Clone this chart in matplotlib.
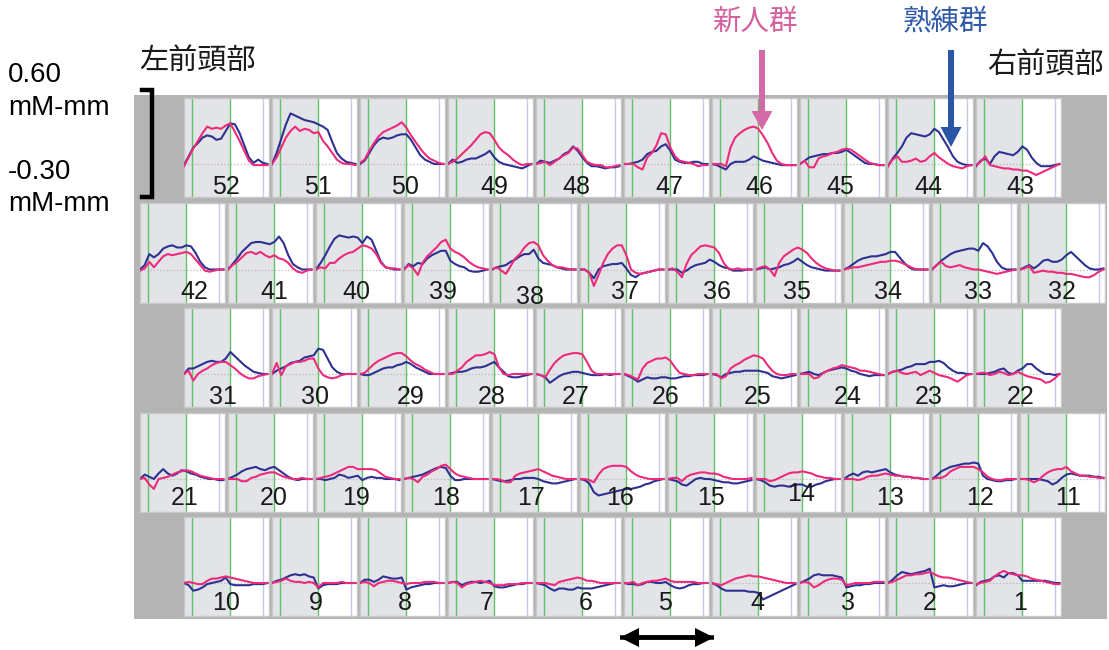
import matplotlib.pyplot as plt
from matplotlib.patches import FancyArrow
import numpy as np

plt.rcParams['font.family'] = ['Liberation Sans', 'Noto Sans CJK JP', 'DejaVu Sans']

# --- データ ---
# 時間軸 [s]：安静 5 s → 課題 25 s → 安静
time_s = [0, 3, 6, 9, 12, 15, 18, 21, 24, 27, 30, 33, 36, 39, 42, 45, 48, 51, 54]
task_on, task_off, rest_end = 5, 30, 51

# チャンネル配置（上段から、左→右）
ch_rows = [
    [52, 51, 50, 49, 48, 47, 46, 45, 44, 43],
    [42, 41, 40, 39, 38, 37, 36, 35, 34, 33, 32],
    [31, 30, 29, 28, 27, 26, 25, 24, 23, 22],
    [21, 20, 19, 18, 17, 16, 15, 14, 13, 12, 11],
    [10, 9, 8, 7, 6, 5, 4, 3, 2, 1],
]

# 新人群 (oxy-Hb, mM-mm)
novice = {
    52: [-0.02, 0.06, 0.14, 0.21, 0.28, 0.34, 0.32, 0.33, 0.32, 0.35, 0.37, 0.29, 0.21, 0.12, 0.03, -0.01, -0.01, -0.01, -0.01],
    51: [0.0, 0.06, 0.15, 0.24, 0.30, 0.34, 0.30, 0.32, 0.31, 0.28, 0.29, 0.21, 0.16, 0.10, 0.04, 0.01, 0.0, 0.0, -0.01],
    50: [0.01, 0.04, 0.12, 0.19, 0.25, 0.29, 0.31, 0.33, 0.35, 0.38, 0.33, 0.26, 0.20, 0.14, 0.09, 0.05, 0.03, 0.01, 0.0],
    49: [0.0, 0.02, 0.05, 0.09, 0.13, 0.17, 0.22, 0.27, 0.29, 0.28, 0.22, 0.15, 0.11, 0.08, 0.04, 0.01, -0.01, 0.0, 0.0],
    48: [0.0, 0.01, 0.02, -0.01, 0.02, 0.05, 0.08, 0.10, 0.15, 0.14, 0.08, 0.02, 0.0, -0.01, -0.01, -0.03, -0.03, -0.02, -0.01],
    47: [0.0, 0.0, 0.0, -0.03, -0.05, 0.06, 0.10, 0.17, 0.28, 0.27, 0.15, 0.07, 0.03, 0.02, 0.01, 0.0, -0.02, -0.01, -0.01],
    46: [0.0, 0.0, 0.0, -0.02, 0.15, 0.24, 0.28, 0.31, 0.33, 0.34, 0.32, 0.26, 0.19, 0.10, 0.03, 0.0, -0.01, -0.01, -0.01],
    45: [0.0, 0.03, -0.03, -0.03, 0.05, 0.07, 0.08, 0.10, 0.11, 0.13, 0.14, 0.13, 0.10, 0.07, 0.04, 0.01, 0.0, -0.01, -0.01],
    44: [-0.02, 0.04, 0.07, 0.02, 0.02, 0.03, 0.05, 0.02, 0.03, 0.07, 0.10, 0.06, 0.03, 0.0, -0.02, -0.03, -0.04, -0.02, -0.01],
    43: [-0.01, 0.02, 0.07, -0.01, -0.02, -0.03, -0.04, -0.04, -0.05, -0.05, -0.06, -0.06, -0.08, -0.10, -0.08, -0.06, -0.04, -0.02, 0.0],
    42: [-0.01, 0.01, 0.07, 0.02, 0.07, 0.12, 0.14, 0.13, 0.14, 0.15, 0.16, 0.14, 0.09, 0.04, -0.01, -0.02, -0.01, 0.0, 0.0],
    41: [0.0, 0.04, 0.07, 0.11, 0.15, 0.16, 0.14, 0.16, 0.13, 0.11, 0.13, 0.10, 0.09, 0.06, 0.01, -0.02, -0.03, -0.01, 0.0],
    40: [0.0, 0.02, 0.01, 0.06, 0.06, 0.10, 0.13, 0.15, 0.16, 0.19, 0.22, 0.21, 0.19, 0.14, 0.06, 0.02, 0.01, 0.01, 0.0],
    39: [0.0, 0.04, 0.01, -0.05, 0.06, 0.12, 0.16, 0.20, 0.25, 0.27, 0.19, 0.16, 0.14, 0.11, 0.07, 0.04, 0.02, 0.01, 0.0],
    38: [0.0, 0.02, -0.01, -0.04, 0.03, 0.10, 0.14, 0.20, 0.24, 0.25, 0.22, 0.13, 0.08, 0.04, 0.02, 0.02, 0.01, 0.0, 0.0],
    37: [0.0, 0.0, -0.03, -0.15, -0.05, 0.06, 0.14, 0.19, 0.22, 0.22, 0.13, 0.0, -0.03, -0.04, -0.03, -0.02, -0.01, 0.0, 0.0],
    36: [0.0, 0.01, -0.02, -0.07, 0.05, 0.13, 0.17, 0.21, 0.22, 0.21, 0.20, 0.15, 0.06, 0.01, 0.0, 0.01, 0.0, 0.0, 0.0],
    35: [0.0, 0.02, 0.03, 0.0, -0.06, 0.06, 0.12, 0.15, 0.18, 0.20, 0.18, 0.15, 0.10, 0.06, 0.03, 0.01, 0.0, -0.01, -0.01],
    34: [0.0, 0.01, 0.02, 0.02, 0.03, 0.04, 0.05, 0.06, 0.07, 0.07, 0.08, 0.08, 0.07, 0.05, 0.03, 0.01, 0.0, 0.0, 0.0],
    33: [0.0, 0.04, 0.07, 0.03, 0.02, 0.03, 0.04, 0.02, 0.01, 0.0, 0.0, -0.01, -0.02, -0.03, -0.04, -0.03, -0.02, -0.01, 0.0],
    32: [0.0, 0.01, 0.03, -0.03, -0.02, -0.01, -0.02, -0.02, -0.03, -0.03, -0.04, -0.04, -0.05, -0.06, -0.07, -0.07, -0.05, -0.02, 0.0],
    31: [0.0, 0.03, -0.06, 0.0, 0.03, 0.05, 0.08, 0.10, 0.11, 0.11, 0.08, 0.05, 0.01, -0.02, -0.04, -0.04, -0.02, -0.01, 0.0],
    30: [0.0, 0.10, -0.01, 0.07, 0.09, 0.11, 0.11, 0.12, 0.14, 0.14, 0.05, -0.01, -0.03, -0.04, -0.03, -0.01, 0.0, 0.0, 0.0],
    29: [0.0, 0.01, 0.05, 0.09, 0.12, 0.14, 0.16, 0.18, 0.19, 0.19, 0.16, 0.12, 0.09, 0.07, 0.04, 0.02, 0.0, 0.0, 0.0],
    28: [0.0, 0.0, 0.03, 0.06, 0.11, 0.14, 0.17, 0.17, 0.18, 0.20, 0.18, 0.06, 0.0, -0.01, 0.0, 0.0, 0.0, 0.0, 0.0],
    27: [0.0, -0.01, -0.03, 0.04, 0.10, 0.14, 0.17, 0.18, 0.19, 0.19, 0.18, 0.11, 0.03, 0.0, 0.0, 0.0, 0.0, 0.0, 0.0],
    26: [0.0, -0.01, -0.03, -0.05, 0.05, 0.10, 0.12, 0.14, 0.14, 0.15, 0.12, 0.06, 0.01, 0.0, -0.01, -0.01, 0.0, 0.0, 0.0],
    25: [0.0, 0.0, -0.04, -0.02, 0.05, 0.08, 0.10, 0.13, 0.15, 0.17, 0.16, 0.14, 0.08, 0.03, 0.0, -0.01, -0.01, 0.0, 0.0],
    24: [0.0, 0.0, 0.0, -0.04, -0.03, 0.01, 0.03, 0.05, 0.06, 0.08, 0.07, 0.06, 0.05, 0.03, 0.03, 0.02, 0.01, 0.0, -0.01],
    23: [0.0, 0.02, 0.03, 0.01, 0.0, 0.01, 0.02, -0.01, 0.01, 0.03, 0.01, -0.01, -0.02, -0.03, -0.05, -0.07, -0.04, -0.01, 0.0],
    22: [0.0, 0.01, 0.01, -0.01, 0.0, 0.02, 0.01, -0.01, 0.0, 0.02, 0.0, -0.02, -0.03, -0.04, -0.05, -0.08, -0.07, -0.04, 0.0],
    21: [0.0, 0.01, -0.05, -0.09, 0.0, 0.01, 0.02, 0.04, 0.06, 0.07, 0.08, 0.07, 0.05, 0.03, 0.02, 0.01, 0.0, 0.0, 0.0],
    20: [0.0, 0.0, 0.0, -0.02, -0.02, 0.01, 0.02, 0.04, 0.05, 0.06, 0.06, 0.04, 0.02, 0.01, 0.0, 0.0, 0.01, 0.0, 0.0],
    19: [0.0, 0.01, 0.02, 0.03, 0.05, 0.07, 0.09, 0.11, 0.11, 0.09, 0.09, 0.09, 0.09, 0.08, 0.05, 0.02, 0.01, 0.0, 0.0],
    18: [0.0, 0.01, 0.0, -0.03, 0.02, 0.04, 0.07, 0.09, 0.12, 0.13, 0.09, 0.05, 0.03, 0.02, 0.01, 0.0, 0.0, 0.0, 0.0],
    17: [0.0, 0.0, -0.01, -0.03, -0.03, 0.03, 0.05, 0.06, 0.07, 0.08, 0.09, 0.07, 0.05, 0.03, 0.02, 0.01, 0.0, 0.0, 0.0],
    16: [0.0, 0.0, -0.01, -0.03, 0.04, 0.09, 0.11, 0.12, 0.12, 0.12, 0.11, 0.07, 0.04, 0.02, 0.01, 0.0, 0.0, 0.0, 0.0],
    15: [0.0, 0.01, 0.01, -0.02, 0.02, 0.04, 0.05, 0.06, 0.06, 0.05, 0.05, 0.04, 0.02, 0.01, 0.0, 0.0, 0.0, 0.0, 0.01],
    14: [0.0, 0.0, 0.0, -0.02, -0.01, 0.01, 0.03, 0.05, 0.06, 0.06, 0.07, 0.06, 0.05, 0.03, 0.02, 0.01, 0.01, 0.0, 0.0],
    13: [0.0, 0.0, 0.0, -0.01, 0.0, 0.02, 0.03, 0.03, 0.04, 0.05, 0.04, 0.03, 0.03, 0.02, 0.02, 0.01, 0.01, 0.0, 0.0],
    12: [0.0, 0.01, 0.01, 0.03, 0.07, 0.09, 0.11, 0.11, 0.11, 0.11, 0.09, 0.06, 0.02, 0.0, -0.01, -0.01, 0.0, 0.0, 0.0],
    11: [0.0, 0.0, -0.01, -0.03, -0.01, 0.03, 0.06, 0.08, 0.09, 0.09, 0.11, 0.07, 0.05, 0.03, 0.03, 0.02, 0.02, 0.01, 0.01],
    10: [0.0, 0.01, 0.0, -0.01, -0.01, 0.02, 0.04, 0.04, 0.05, 0.06, 0.05, 0.04, 0.03, 0.02, 0.01, 0.0, 0.0, 0.0, 0.0],
    9: [0.0, 0.01, 0.02, 0.04, 0.02, 0.01, 0.01, 0.0, 0.01, 0.0, -0.04, 0.0, 0.0, 0.0, 0.0, 0.01, 0.0, 0.0, 0.0],
    8: [0.0, 0.01, 0.0, -0.03, 0.0, 0.01, 0.02, 0.02, 0.01, 0.0, -0.01, 0.0, 0.0, 0.0, 0.01, 0.01, 0.01, 0.0, 0.0],
    7: [0.0, 0.01, 0.0, -0.04, -0.01, 0.0, 0.01, 0.02, 0.01, 0.0, -0.02, -0.02, -0.02, -0.01, -0.01, -0.01, 0.0, 0.0, 0.0],
    6: [0.0, 0.0, 0.0, -0.01, -0.02, 0.01, 0.02, 0.03, 0.04, 0.05, 0.04, 0.02, 0.02, 0.01, 0.0, 0.0, 0.0, 0.0, 0.0],
    5: [0.0, 0.0, 0.01, -0.02, 0.0, 0.01, 0.02, 0.02, 0.03, 0.04, 0.02, 0.01, 0.01, 0.01, 0.01, 0.01, 0.0, 0.0, 0.0],
    4: [0.0, -0.01, -0.02, 0.0, 0.02, 0.04, 0.05, 0.06, 0.07, 0.06, 0.06, 0.05, 0.04, 0.03, 0.02, 0.01, 0.0, 0.0, 0.0],
    3: [0.0, 0.01, 0.0, -0.04, -0.02, 0.01, 0.03, 0.04, 0.04, 0.03, -0.02, -0.01, 0.0, 0.0, 0.0, 0.0, 0.01, 0.01, 0.01],
    2: [0.0, 0.01, 0.03, 0.05, 0.07, 0.07, 0.08, 0.08, 0.09, 0.10, 0.08, 0.06, 0.05, 0.05, 0.04, 0.03, 0.02, 0.01, 0.0],
    1: [-0.01, 0.0, 0.01, 0.02, 0.06, 0.09, 0.11, 0.09, 0.08, 0.07, 0.07, 0.06, 0.04, 0.03, 0.02, 0.01, 0.0, -0.01, -0.01],
}

# 熟練群 (oxy-Hb, mM-mm)
expert = {
    52: [-0.01, 0.07, 0.15, 0.19, 0.24, 0.26, 0.25, 0.22, 0.23, 0.30, 0.37, 0.36, 0.28, 0.17, 0.06, 0.01, 0.04, 0.01, 0.0],
    51: [0.0, 0.10, 0.23, 0.36, 0.46, 0.44, 0.42, 0.40, 0.39, 0.38, 0.36, 0.34, 0.31, 0.20, 0.10, 0.05, 0.02, 0.01, 0.0],
    50: [0.0, 0.03, 0.10, 0.17, 0.22, 0.24, 0.23, 0.24, 0.26, 0.27, 0.27, 0.22, 0.15, 0.08, 0.04, 0.02, 0.0, 0.0, 0.0],
    49: [0.0, 0.04, 0.01, 0.02, 0.04, 0.05, 0.05, 0.07, 0.09, 0.12, 0.06, 0.02, 0.0, -0.01, -0.02, -0.03, -0.04, -0.02, 0.0],
    48: [0.0, 0.03, 0.02, 0.01, 0.03, 0.05, 0.09, 0.11, 0.16, 0.12, 0.06, 0.01, -0.02, -0.02, -0.03, -0.04, -0.03, -0.03, -0.02],
    47: [0.0, 0.0, 0.01, 0.02, 0.04, 0.09, 0.11, 0.12, 0.16, 0.18, 0.12, 0.04, 0.02, 0.01, 0.01, 0.02, 0.02, 0.0, 0.0],
    46: [0.0, -0.01, -0.03, -0.05, 0.0, 0.02, 0.02, 0.02, 0.04, 0.07, 0.05, 0.03, 0.02, 0.01, 0.0, -0.01, -0.01, -0.01, -0.01],
    45: [0.0, 0.03, 0.06, 0.07, 0.08, 0.09, 0.09, 0.10, 0.10, 0.11, 0.13, 0.10, 0.07, 0.04, 0.01, 0.0, 0.0, -0.01, -0.01],
    44: [-0.02, 0.05, 0.10, 0.16, 0.24, 0.28, 0.27, 0.26, 0.25, 0.27, 0.32, 0.29, 0.22, 0.15, 0.07, 0.02, 0.0, -0.01, -0.01],
    43: [-0.02, 0.03, 0.05, 0.0, 0.07, 0.11, 0.10, 0.09, 0.08, 0.11, 0.16, 0.13, 0.06, 0.01, -0.02, -0.02, -0.02, -0.01, 0.0],
    42: [0.0, 0.04, 0.14, 0.11, 0.14, 0.19, 0.21, 0.22, 0.20, 0.20, 0.22, 0.21, 0.15, 0.07, 0.02, 0.0, 0.0, 0.0, 0.0],
    41: [0.0, 0.05, 0.10, 0.16, 0.20, 0.24, 0.25, 0.25, 0.24, 0.23, 0.25, 0.30, 0.24, 0.13, 0.05, 0.02, 0.0, 0.0, 0.0],
    40: [0.0, 0.06, 0.13, 0.21, 0.28, 0.31, 0.30, 0.29, 0.30, 0.29, 0.24, 0.30, 0.27, 0.17, 0.07, 0.02, 0.01, 0.0, 0.0],
    39: [0.0, 0.05, 0.03, 0.06, 0.05, 0.10, 0.13, 0.15, 0.17, 0.17, 0.08, 0.05, 0.03, 0.02, -0.01, -0.02, -0.02, -0.01, 0.0],
    38: [0.0, 0.02, 0.03, 0.04, 0.07, 0.09, 0.12, 0.14, 0.14, 0.18, 0.10, 0.06, 0.05, 0.04, 0.02, 0.01, 0.0, 0.0, 0.0],
    37: [0.0, 0.0, -0.03, -0.08, 0.0, 0.03, 0.04, 0.05, 0.05, 0.06, 0.01, -0.05, -0.07, -0.04, -0.03, -0.02, -0.01, 0.0, 0.0],
    36: [0.0, 0.0, 0.0, -0.03, -0.01, 0.02, 0.04, 0.05, 0.06, 0.09, 0.07, 0.04, 0.02, 0.01, -0.01, -0.01, -0.01, 0.0, 0.0],
    35: [0.0, 0.01, 0.02, 0.0, 0.01, 0.02, 0.04, 0.05, 0.07, 0.10, 0.07, 0.04, 0.02, 0.01, 0.0, -0.01, -0.01, -0.01, -0.01],
    34: [0.0, 0.02, 0.05, 0.08, 0.10, 0.11, 0.12, 0.12, 0.13, 0.14, 0.16, 0.16, 0.11, 0.06, 0.02, 0.0, 0.0, 0.0, 0.0],
    33: [0.0, 0.04, 0.08, 0.11, 0.14, 0.16, 0.17, 0.18, 0.19, 0.19, 0.17, 0.24, 0.21, 0.15, 0.07, 0.02, 0.0, 0.0, 0.0],
    32: [0.0, 0.02, 0.04, 0.01, 0.04, 0.08, 0.09, 0.07, 0.07, 0.09, 0.13, 0.16, 0.12, 0.08, 0.04, 0.01, 0.0, 0.0, 0.01],
    31: [0.0, 0.05, 0.05, 0.07, 0.09, 0.11, 0.12, 0.11, 0.11, 0.14, 0.20, 0.16, 0.12, 0.08, 0.05, 0.02, 0.01, 0.0, 0.0],
    30: [0.0, 0.03, 0.05, 0.07, 0.10, 0.11, 0.12, 0.15, 0.16, 0.17, 0.23, 0.22, 0.14, 0.06, 0.02, 0.0, 0.0, 0.0, 0.0],
    29: [0.0, -0.01, -0.01, 0.01, 0.03, 0.05, 0.06, 0.06, 0.08, 0.09, 0.11, 0.09, 0.06, 0.04, 0.02, 0.0, 0.0, 0.0, 0.0],
    28: [0.0, 0.01, 0.02, 0.02, 0.03, 0.05, 0.06, 0.06, 0.07, 0.09, 0.11, 0.06, 0.02, -0.02, -0.03, -0.03, -0.02, -0.01, 0.0],
    27: [0.0, -0.01, -0.03, -0.08, -0.05, -0.02, 0.0, 0.01, 0.02, 0.02, 0.01, 0.0, -0.01, -0.01, -0.01, 0.0, -0.01, 0.0, 0.0],
    26: [0.0, -0.02, -0.04, -0.07, -0.05, -0.03, -0.04, -0.04, -0.03, -0.03, -0.04, -0.04, -0.03, -0.02, -0.02, -0.01, -0.01, -0.01, 0.0],
    25: [0.0, -0.01, -0.03, 0.0, 0.01, 0.02, 0.02, 0.03, 0.03, 0.03, 0.03, 0.02, 0.01, -0.02, -0.03, -0.04, -0.03, -0.02, -0.01],
    24: [0.0, 0.01, 0.02, 0.0, -0.01, 0.01, 0.03, 0.04, 0.05, 0.06, 0.05, 0.03, 0.02, 0.0, -0.01, -0.02, -0.01, -0.01, -0.01],
    23: [0.0, 0.02, 0.03, 0.04, 0.06, 0.07, 0.09, 0.09, 0.09, 0.11, 0.11, 0.12, 0.10, 0.06, 0.03, 0.01, 0.01, 0.0, 0.0],
    22: [0.0, 0.0, 0.0, 0.01, 0.02, 0.04, 0.05, 0.01, 0.0, 0.03, 0.05, 0.09, 0.09, 0.05, 0.02, 0.0, 0.0, -0.01, 0.0],
    21: [0.0, 0.04, 0.02, 0.0, 0.05, 0.09, 0.05, 0.03, 0.05, 0.08, 0.07, 0.05, 0.04, 0.02, 0.01, 0.0, 0.0, -0.01, -0.01],
    20: [0.0, 0.02, 0.04, 0.07, 0.09, 0.10, 0.11, 0.09, 0.08, 0.10, 0.11, 0.08, 0.05, 0.02, 0.0, -0.01, 0.0, 0.0, 0.0],
    19: [0.0, 0.0, -0.01, 0.0, 0.01, 0.04, 0.03, 0.01, 0.02, 0.03, -0.01, 0.01, 0.02, 0.01, 0.01, 0.0, 0.0, 0.0, -0.01],
    18: [0.0, 0.01, 0.02, 0.03, 0.04, 0.06, 0.08, 0.10, 0.11, 0.10, 0.03, -0.01, -0.01, 0.0, 0.0, 0.0, 0.0, 0.0, 0.0],
    17: [0.0, -0.01, -0.02, -0.02, -0.01, 0.0, 0.0, 0.01, 0.01, 0.01, 0.0, -0.02, -0.03, -0.04, -0.04, -0.03, -0.02, -0.01, 0.0],
    16: [0.0, -0.01, -0.04, -0.12, -0.15, -0.14, -0.13, -0.12, -0.11, -0.10, -0.09, -0.09, -0.08, -0.07, -0.05, -0.04, -0.02, -0.01, 0.0],
    15: [0.0, -0.01, -0.02, -0.05, -0.06, -0.03, 0.0, 0.01, 0.0, 0.0, -0.01, -0.02, -0.03, -0.03, -0.04, -0.04, -0.03, -0.02, -0.01],
    14: [0.0, -0.01, -0.03, -0.06, -0.07, -0.06, -0.06, -0.07, -0.06, -0.05, -0.05, -0.07, -0.07, -0.05, -0.04, -0.02, -0.01, 0.0, 0.0],
    13: [0.0, 0.03, 0.05, 0.03, 0.06, 0.07, 0.06, 0.07, 0.08, 0.09, 0.06, 0.04, 0.03, 0.02, 0.02, 0.01, 0.01, 0.0, 0.0],
    12: [0.0, 0.03, 0.07, 0.09, 0.11, 0.12, 0.13, 0.14, 0.14, 0.15, 0.14, 0.03, 0.0, -0.01, -0.02, -0.02, -0.01, -0.01, 0.0],
    11: [0.0, 0.0, 0.0, 0.0, 0.0, -0.01, -0.02, -0.05, -0.03, 0.01, 0.04, 0.05, 0.04, 0.03, 0.03, 0.03, 0.02, 0.02, 0.01],
    10: [0.0, -0.02, -0.07, -0.06, -0.04, -0.01, 0.0, 0.01, 0.02, 0.05, -0.01, -0.02, -0.02, -0.02, -0.02, -0.01, -0.01, -0.01, 0.0],
    9: [0.0, 0.02, 0.03, 0.05, 0.07, 0.08, 0.07, 0.08, 0.06, 0.05, -0.05, -0.02, -0.01, -0.01, -0.01, 0.0, 0.0, 0.0, 0.0],
    8: [0.0, 0.03, 0.03, 0.01, 0.03, 0.06, 0.05, 0.04, 0.04, 0.05, -0.06, -0.04, -0.03, -0.02, -0.01, -0.01, 0.0, 0.0, 0.0],
    7: [0.0, 0.01, 0.01, -0.02, 0.0, 0.01, 0.01, 0.0, 0.01, 0.02, -0.03, -0.04, -0.04, -0.03, -0.02, -0.01, -0.01, 0.0, 0.0],
    6: [0.0, -0.01, -0.02, -0.05, -0.07, -0.05, -0.05, -0.06, -0.06, -0.04, -0.05, -0.05, -0.05, -0.04, -0.03, -0.02, -0.01, 0.0, 0.0],
    5: [0.0, -0.01, -0.01, -0.02, -0.01, 0.01, 0.01, 0.0, 0.0, 0.01, -0.02, -0.04, -0.05, -0.04, -0.02, -0.01, -0.01, 0.0, 0.0],
    4: [0.0, -0.02, -0.05, -0.07, -0.07, -0.07, -0.07, -0.07, -0.08, -0.08, -0.09, -0.15, -0.13, -0.11, -0.09, -0.07, -0.05, -0.03, -0.01],
    3: [0.0, 0.02, 0.04, 0.07, 0.08, 0.07, 0.07, 0.07, 0.06, 0.05, -0.04, -0.03, -0.02, -0.02, -0.01, -0.01, 0.0, 0.0, 0.0],
    2: [0.0, 0.03, 0.07, 0.10, 0.09, 0.08, 0.09, 0.10, 0.11, 0.13, -0.04, -0.03, -0.02, -0.03, -0.03, -0.02, -0.01, 0.0, 0.0],
    1: [-0.02, 0.01, 0.02, 0.03, 0.06, 0.07, 0.05, 0.09, 0.09, 0.07, 0.02, 0.02, 0.02, 0.02, 0.02, 0.02, 0.01, 0.0, 0.0],
}

# チャンネル番号の位置（パネル内の割合）
label_x = {
    52: 0.49, 51: 0.54, 50: 0.53, 49: 0.54, 48: 0.48, 47: 0.53, 46: 0.56, 45: 0.47, 44: 0.48, 43: 0.52,
    42: 0.64, 41: 0.55, 40: 0.47, 39: 0.46, 38: 0.45, 37: 0.53, 36: 0.58, 35: 0.48, 34: 0.52, 33: 0.54, 32: 0.49,
    31: 0.46, 30: 0.51, 29: 0.60, 28: 0.51, 27: 0.47, 26: 0.49, 25: 0.54, 24: 0.56, 23: 0.48, 22: 0.53,
    21: 0.52, 20: 0.54, 19: 0.47, 18: 0.49, 17: 0.46, 16: 0.47, 15: 0.51, 14: 0.53, 13: 0.54, 12: 0.56, 11: 0.56,
    10: 0.49, 9: 0.51, 8: 0.53, 7: 0.45, 6: 0.58, 5: 0.48, 4: 0.53, 3: 0.56, 2: 0.49, 1: 0.52,
}
row_label_y = [0.10, 0.11, 0.10, 0.14, 0.13]
label_y = {38: 0.06, 14: 0.18}

# --- 描画 ---
W, H = 1109, 650
fig = plt.figure(figsize=(W / 100, H / 100), dpi=100)


def fig_box(x, y, w, h):
    # ピクセル座標（左上原点）→ figure 座標
    return [x / W, 1 - (y + h) / H, w / W, h / H]


# 灰色の台紙（パネルの背面）
frame = fig.add_axes(fig_box(134, 95, 973, 524), zorder=-10)
frame.set_facecolor('#b4b4b4')
frame.set_xticks([])
frame.set_yticks([])
for s in frame.spines.values():
    s.set_visible(False)

pink = '#ee2a7b'
navy = '#2e3192'
panel_w, panel_h = 85, 99
row_top = [98, 203.5, 308, 413, 517]
row_left = [184, 140, 184, 140, 184]

for r, chans in enumerate(ch_rows):
    for c, ch in enumerate(chans):
        x0 = row_left[r] + 88 * c
        ax = fig.add_axes(fig_box(x0, row_top[r], panel_w, panel_h))
        ax.set_xlim(0, 55)
        ax.set_ylim(-0.30, 0.60)
        ax.set_facecolor('white')
        ax.axvspan(0, task_off, color='#e2e4e8', lw=0, zorder=0)
        for tx in (task_on, task_off):
            ax.axvline(tx, color='#62c266', lw=1.0, zorder=1)
        ax.axvline(rest_end, color='#c4c6ea', lw=1.0, zorder=1)
        ax.axhline(0, color='#b8b8b8', lw=0.9, ls=':', zorder=1)
        ax.plot(time_s, expert[ch], color=navy, lw=1.5, zorder=3)
        ax.plot(time_s, novice[ch], color=pink, lw=1.5, zorder=4)
        ax.text(label_x[ch], label_y.get(ch, row_label_y[r]), str(ch), transform=ax.transAxes,
                ha='center', va='center', fontsize=18, color='#1a1a1a', zorder=5)
        ax.set_xticks([])
        ax.set_yticks([])
        for s in ax.spines.values():
            s.set_color('#c8c8c8')
            s.set_linewidth(1.0)

# スケール
fig.text(8 / W, 1 - 75 / H, '0.60', fontsize=20, va='center', ha='left')
fig.text(8 / W, 1 - 108 / H, 'mM-mm', fontsize=20, va='center', ha='left')
fig.text(8 / W, 1 - 172 / H, '-0.30', fontsize=20, va='center', ha='left')
fig.text(8 / W, 1 - 204 / H, 'mM-mm', fontsize=20, va='center', ha='left')
bx = [142 / W, 152 / W, 152 / W, 142 / W]
by = [1 - 90 / H, 1 - 90 / H, 1 - 197 / H, 1 - 197 / H]
fig.add_artist(plt.Line2D(bx, by, transform=fig.transFigure, color='black',
                          lw=3.2, solid_joinstyle='miter'))

cjk = ['Noto Sans CJK JP', 'DejaVu Sans']
fig.text(139 / W, 1 - 62 / H, '左前頭部', family=cjk, fontsize=21, va='center', ha='left', color='#1a1a1a')
fig.text(1104 / W, 1 - 66 / H, '右前頭部', family=cjk, fontsize=21, va='center', ha='right', color='#1a1a1a')
fig.text(755 / W, 1 - 22 / H, '新人群', family=cjk, fontsize=20.5, va='center', ha='center', color='#d3609f')
fig.text(945 / W, 1 - 22 / H, '熟練群', family=cjk, fontsize=20.5, va='center', ha='center', color='#2f5aa8')

# 注目チャンネルを指す矢印
fig.add_artist(FancyArrow(762 / W, 1 - 50 / H, 0, -80 / H, width=6 / W,
                          head_width=21 / W, head_length=19 / H, length_includes_head=True,
                          transform=fig.transFigure, color='#d36aa7', lw=0))
fig.add_artist(FancyArrow(951 / W, 1 - 50 / H, 0, -97 / H, width=6 / W,
                          head_width=21 / W, head_length=20 / H, length_includes_head=True,
                          transform=fig.transFigure, color='#2a56a8', lw=0))

# 時間幅を示す両矢印
fig.add_artist(FancyArrow(620 / W, 1 - 637.5 / H, 94 / W, 0, width=4.5 / H,
                          head_width=19 / H, head_length=19 / W, length_includes_head=True,
                          transform=fig.transFigure, color='black', lw=0))
fig.add_artist(FancyArrow(714 / W, 1 - 637.5 / H, -94 / W, 0, width=4.5 / H,
                          head_width=19 / H, head_length=19 / W, length_includes_head=True,
                          transform=fig.transFigure, color='black', lw=0))

fig.savefig('out.png', dpi=100, facecolor='white')
